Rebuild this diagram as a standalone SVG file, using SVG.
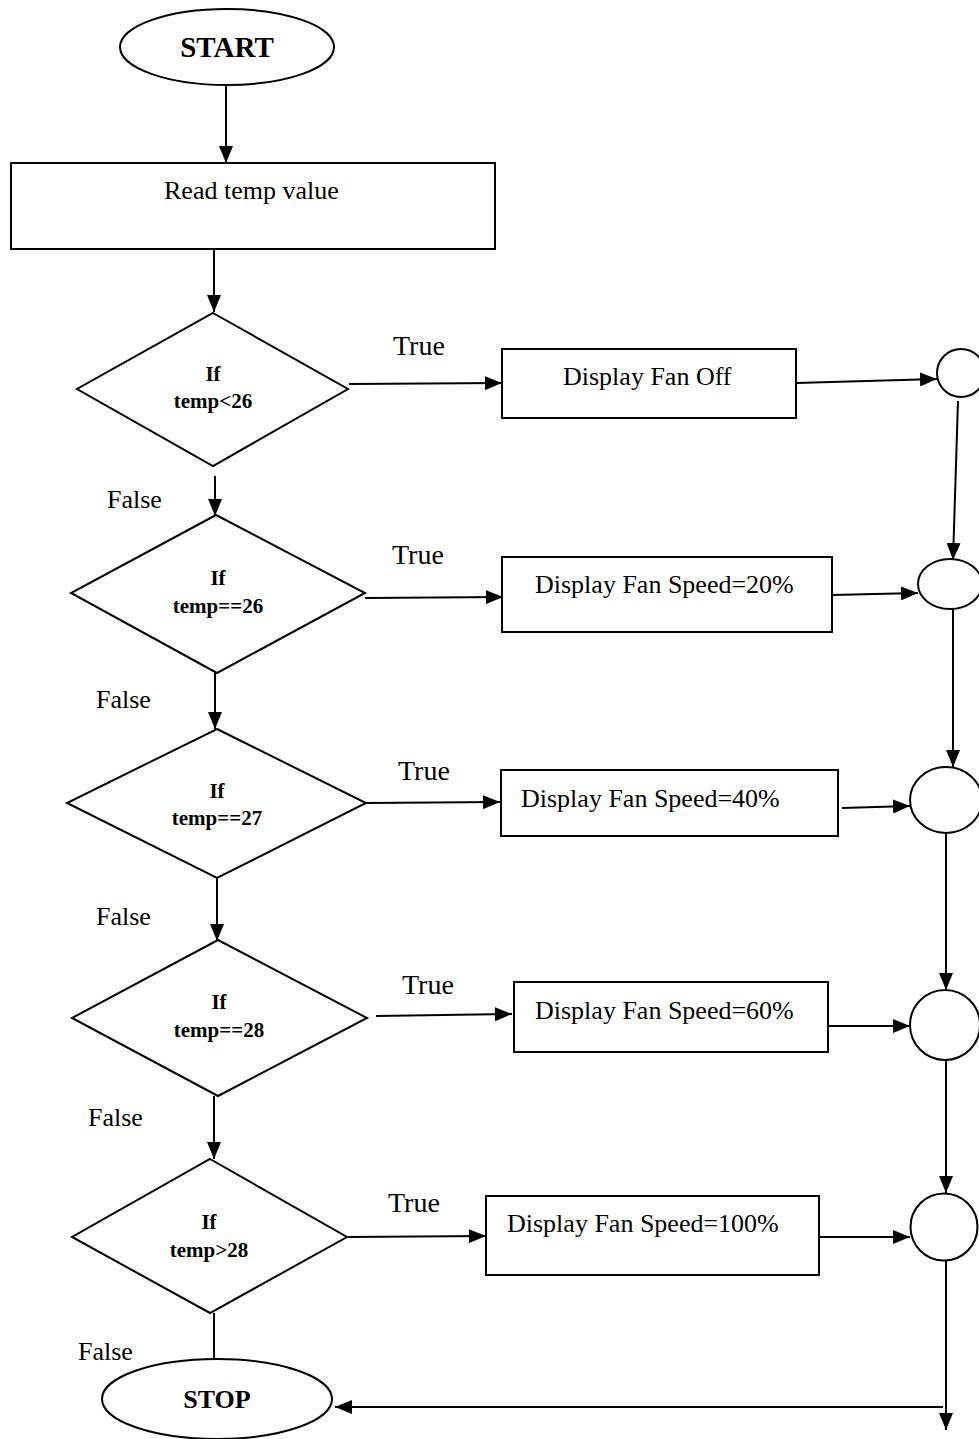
<svg xmlns="http://www.w3.org/2000/svg" width="979" height="1439" viewBox="0 0 979 1439">
<style>
.s{fill:#fff;stroke:#000;stroke-width:2}
.c{fill:none;stroke:#000;stroke-width:2}
.t{font-family:"Liberation Serif","Times New Roman",serif;font-size:26px;fill:#000}
.b{font-family:"Liberation Serif","Times New Roman",serif;font-weight:bold;font-size:21px;fill:#000;text-anchor:middle}
.lbl{font-family:"Liberation Serif","Times New Roman",serif;font-size:28px;fill:#000}
</style>
<defs>
<marker id="ah" markerUnits="userSpaceOnUse" markerWidth="17" markerHeight="14" refX="17" refY="7" orient="auto">
<path d="M0,0 L17,7 L0,14 z" fill="#000"/>
</marker>
</defs>
<rect width="979" height="1439" fill="#fff"/>
<g id="connectors" class="c" marker-end="url(#ah)">
<line x1="226" y1="86" x2="226" y2="163"/>
<line x1="214" y1="249" x2="214" y2="312"/>
<line x1="215" y1="476" x2="215" y2="516"/>
<line x1="215" y1="673" x2="215" y2="729"/>
<line x1="217" y1="862" x2="217" y2="941"/>
<line x1="214" y1="1096" x2="214" y2="1159"/>
<line x1="214" y1="1313" x2="214" y2="1359" marker-end="none"/>
<line x1="349" y1="384" x2="502" y2="383"/>
<line x1="365" y1="598" x2="503" y2="597"/>
<line x1="366" y1="803" x2="500" y2="802"/>
<line x1="376" y1="1016" x2="512" y2="1014"/>
<line x1="348" y1="1237" x2="486" y2="1236"/>
<line x1="796" y1="383" x2="937" y2="379"/>
<line x1="832" y1="595" x2="918" y2="593"/>
<line x1="842" y1="808" x2="910" y2="806"/>
<line x1="822" y1="1026" x2="910" y2="1026"/>
<line x1="819" y1="1237" x2="910" y2="1237"/>
<line x1="958" y1="401" x2="953" y2="560"/>
<line x1="953" y1="609" x2="953" y2="767"/>
<line x1="946" y1="833" x2="946" y2="990"/>
<line x1="946" y1="1060" x2="946" y2="1193"/>
<line x1="946" y1="1260" x2="946" y2="1430"/>
<line x1="943" y1="1407" x2="335" y2="1407"/>
</g>
<g id="start">
<ellipse class="s" cx="227" cy="47" rx="107" ry="38"/>
<text x="227" y="57" class="b" style="font-size:29px">START</text>
</g>
<g id="read">
<rect class="s" x="11" y="163" width="484" height="86"/>
<text x="164" y="199" class="t">Read temp value</text>
</g>
<g id="d1">
<polygon class="s" points="213,313 348,389 213,466 77,389"/>
<text x="213" y="381" class="b">If</text>
<text x="213" y="408" class="b">temp&lt;26</text>
</g>
<g id="d2">
<polygon class="s" points="216,515 365,593 217,673 71,593"/>
<text x="218" y="585" class="b">If</text>
<text x="218" y="613" class="b">temp==26</text>
</g>
<g id="d3">
<polygon class="s" points="217,729 366,803 217,878 67,803"/>
<text x="217" y="798" class="b">If</text>
<text x="217" y="825" class="b">temp==27</text>
</g>
<g id="d4">
<polygon class="s" points="218,940 367,1018 218,1096 72,1018"/>
<text x="219" y="1009" class="b">If</text>
<text x="219" y="1037" class="b">temp==28</text>
</g>
<g id="d5">
<polygon class="s" points="210,1159 347,1237 210,1313 72,1237"/>
<text x="209" y="1229" class="b">If</text>
<text x="209" y="1257" class="b">temp&gt;28</text>
</g>
<g id="r1">
<rect class="s" x="502" y="349" width="294" height="69"/>
<text x="563" y="385" class="t">Display Fan Off</text>
</g>
<g id="r2">
<rect class="s" x="502" y="557" width="330" height="75"/>
<text x="535" y="593" class="t">Display Fan Speed=20%</text>
</g>
<g id="r3">
<rect class="s" x="501" y="770" width="337" height="66"/>
<text x="521" y="807" class="t">Display Fan Speed=40%</text>
</g>
<g id="r4">
<rect class="s" x="514" y="982" width="314" height="70"/>
<text x="535" y="1019" class="t">Display Fan Speed=60%</text>
</g>
<g id="r5">
<rect class="s" x="486" y="1196" width="333" height="79"/>
<text x="507" y="1232" class="t">Display Fan Speed=100%</text>
</g>
<g id="c1"><ellipse class="s" cx="961" cy="373" rx="24" ry="24"/></g>
<g id="c2"><ellipse class="s" cx="950" cy="584" rx="32" ry="25"/></g>
<g id="c3"><ellipse class="s" cx="946" cy="800" rx="36" ry="33"/></g>
<g id="c4"><ellipse class="s" cx="945" cy="1025" rx="35" ry="35"/></g>
<g id="c5"><ellipse class="s" cx="944" cy="1227" rx="33.5" ry="33.5"/></g>
<g id="stop">
<ellipse class="s" cx="217" cy="1399" rx="115" ry="40"/>
<text x="217" y="1408" class="b" style="font-size:26px">STOP</text>
</g>
<g id="labels">
<text x="393" y="355" class="lbl">True</text>
<text x="392" y="564" class="lbl">True</text>
<text x="398" y="780" class="lbl">True</text>
<text x="402" y="994" class="lbl">True</text>
<text x="388" y="1212" class="lbl">True</text>
<text x="107" y="508" class="t">False</text>
<text x="96" y="708" class="t">False</text>
<text x="96" y="925" class="t">False</text>
<text x="88" y="1126" class="t">False</text>
<text x="78" y="1360" class="t">False</text>
</g>
</svg>
